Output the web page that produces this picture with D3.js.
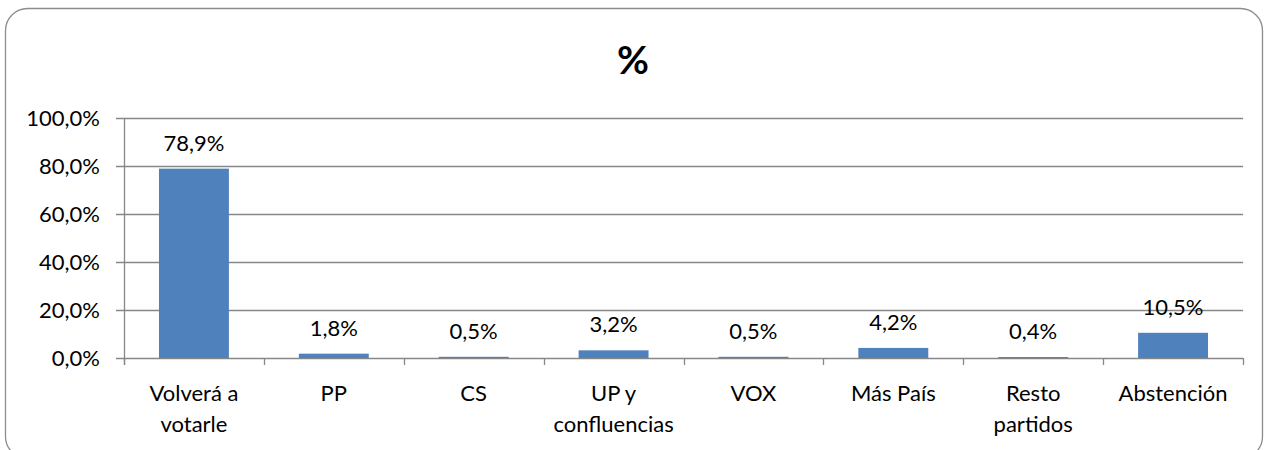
<!DOCTYPE html>
<html><head><meta charset="utf-8">
<script src="https://cdn.jsdelivr.net/npm/d3@7"></script>
<style>body{margin:0;background:#fff}svg{display:block}text{font-family:Lato,"Open Sans",sans-serif;fill:#000}</style>
</head><body><svg id="c" width="1268" height="450"></svg>
<script>
const categories = [["Volverá a","votarle"],["PP"],["CS"],["UP y","confluencias"],["VOX"],["Más País"],["Resto","partidos"],["Abstención"]];
const values = [78.9, 1.8, 0.5, 3.2, 0.5, 4.2, 0.4, 10.5];
const valueLabels = ["78,9%","1,8%","0,5%","3,2%","0,5%","4,2%","0,4%","10,5%"];
const yTicks = [0,20,40,60,80,100];
const yTickLabels = ["0,0%","20,0%","40,0%","60,0%","80,0%","100,0%"];
const title = "%";

(function(){
const svg = d3.select("#c");
const fs = "22px";
svg.append("rect").attr("x",5.5).attr("y",8.5).attr("width",1257).attr("height",450)
  .attr("rx",22).attr("fill","#fff").attr("stroke","#8c8c8c").attr("stroke-width",1.3);
svg.append("text").attr("x",633).attr("y",74).attr("text-anchor","middle")
  .style("font-size","39px").style("font-weight","bold").text(title);

const pL=124, pR=1243, pT=118, pB=358;
const x = d3.scaleBand().domain(d3.range(values.length)).range([pL,pR]).paddingInner(0.5).paddingOuter(0.25);
const y = d3.scaleLinear().domain([0,100]).range([pB,pT]);
const grid="#878787";

const yg = svg.append("g");
yTicks.forEach((t,i)=>{
  yg.append("line").attr("x1",pL-8).attr("x2",pR).attr("y1",Math.round(y(t))+0.5).attr("y2",Math.round(y(t))+0.5)
    .attr("stroke",grid).attr("stroke-width",1.3);
  yg.append("text").attr("x",pL-24).attr("y",y(t)).attr("dy","0.36em").attr("text-anchor","end")
    .style("font-size",fs).text(yTickLabels[i]);
});
svg.append("line").attr("x1",pL+0.5).attr("x2",pL+0.5).attr("y1",pT).attr("y2",pB+7).attr("stroke",grid).attr("stroke-width",1.3);
const step = x.step();
d3.range(values.length+1).forEach(i=>{
  const px = Math.round(pL + i*step)+0.5;
  svg.append("line").attr("x1",px).attr("x2",px).attr("y1",pB).attr("y2",pB+7).attr("stroke",grid).attr("stroke-width",1.3);
});
svg.append("g").selectAll("rect").data(values).join("rect")
  .attr("x",(d,i)=>x(i)).attr("width",x.bandwidth())
  .attr("y",d=>y(d)).attr("height",d=>pB-y(d)).attr("fill","#4F81BD");
svg.append("g").selectAll("text").data(values).join("text")
  .attr("x",(d,i)=>x(i)+x.bandwidth()/2).attr("y",d=>y(d)-18)
  .attr("text-anchor","middle").style("font-size",fs).text((d,i)=>valueLabels[i]);
const cg = svg.append("g");
categories.forEach((lines,i)=>{
  const cx = x(i)+x.bandwidth()/2;
  const t = cg.append("text").attr("x",cx).attr("y",401).attr("text-anchor","middle").style("font-size",fs);
  lines.forEach((l,j)=>t.append("tspan").attr("x",cx).attr("y",401+j*31).text(l));
});
})();
</script></body></html>
